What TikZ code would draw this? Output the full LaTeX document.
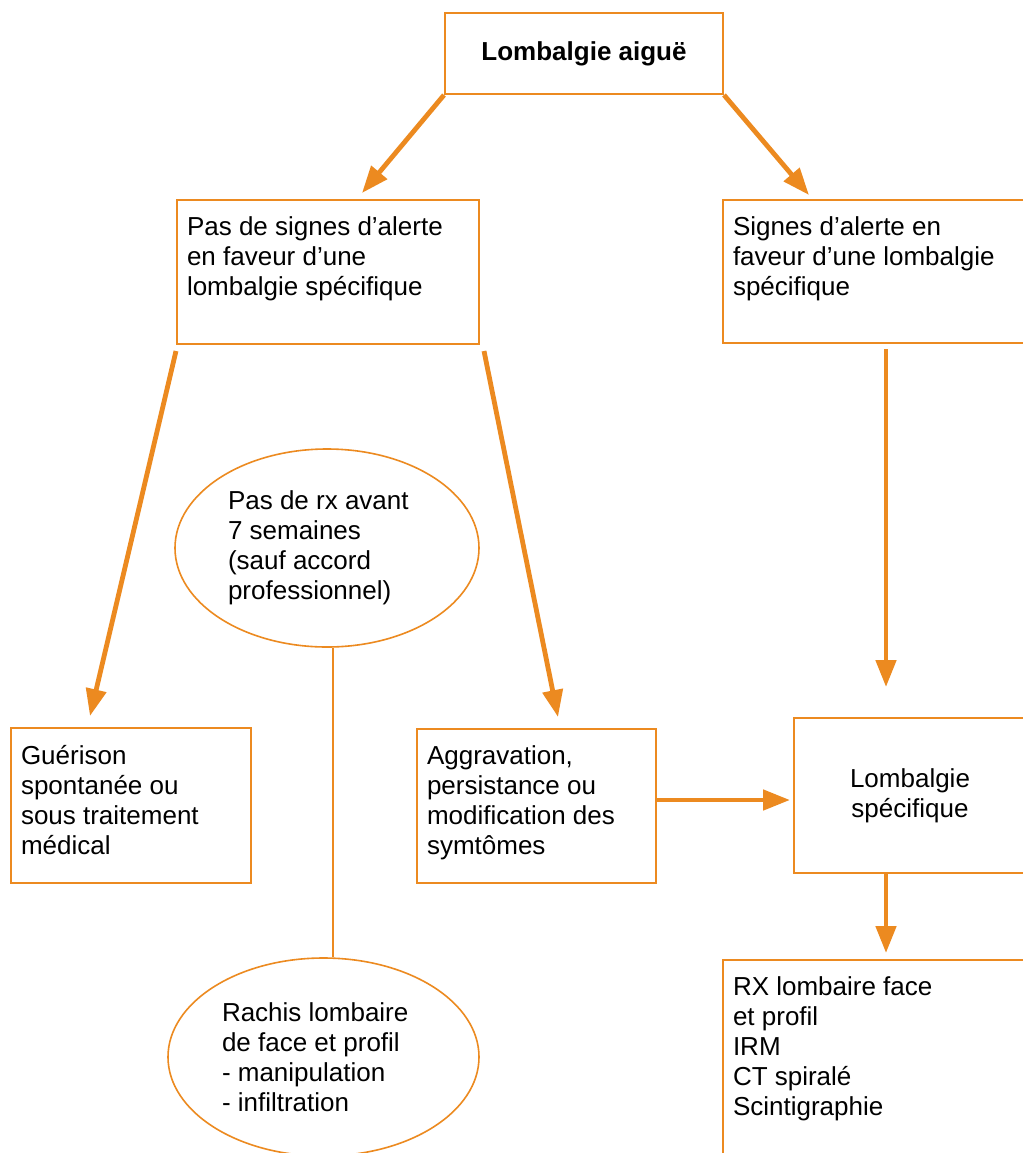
\documentclass[tikz,border=0pt]{standalone}
\usepackage{fontspec}
\setmainfont{Liberation Sans}
\usetikzlibrary{arrows.meta,positioning,calc,shapes.geometric}
\definecolor{amber}{RGB}{236,138,32}
\newcommand{\flowfont}{\fontsize{13}{15}\selectfont}
\newcommand{\stagetext}[3]{\parbox[c][#2][t]{#1}{\raggedright #3}}
\tikzset{
  flow/.style={line width=2.4pt,amber,-{Triangle[length=13.5pt,width=10pt]}},
  link/.style={line width=0.7pt,amber},
  stage/.style={draw=amber,line width=1pt,anchor=north west,inner xsep=5pt,inner ysep=8.5pt,font=\flowfont},
  centerbox/.style={draw=amber,line width=1pt,anchor=north west,inner sep=0pt,align=center,font=\flowfont},
  bubble/.style={ellipse,draw=amber,line width=0.8pt,inner sep=0pt,font=\flowfont}
}
\begin{document}
\begin{tikzpicture}[x=0.5pt,y=-0.5pt]
  \path[use as bounding box,fill=white] (0,0) rectangle (1023,1153);
  \clip (0,0) rectangle (1023,1153);
  % boxes
  \node[centerbox,minimum width=139pt,minimum height=40.5pt,font=\flowfont\bfseries] (title) at (444,12) {Lombalgie aiguë};
  \node[stage] (plain) at (176,199) {\stagetext{141pt}{55pt}{Pas de signes d’alerte\\en faveur d’une\\lombalgie spécifique}};
  \node[stage] (alert) at (722,199) {\stagetext{149pt}{54.5pt}{Signes d’alerte en\\faveur d’une lombalgie\\spécifique}};
  \node[stage] (heal) at (10,727) {\stagetext{110pt}{60.5pt}{Guérison\\spontanée ou\\sous traitement\\médical}};
  \node[stage] (worse) at (416,728) {\stagetext{109.5pt}{60pt}{Aggravation,\\persistance ou\\modification des\\symtômes}};
  \node[centerbox,minimum width=116pt,minimum height=77.5pt] (spec) at (793,717) {Lombalgie\\spécifique};
  \node[stage] (imaging) at (722,959) {\stagetext{149pt}{88.5pt}{RX lombaire face\\et profil\\IRM\\CT spiralé\\Scintigraphie}};
  % ellipses
  \node[bubble,minimum width=152pt,minimum height=99pt] (norx) at (327,548) {\parbox{99pt}{Pas de rx avant\\7 semaines\\(sauf accord\\professionnel)}};
  \node[bubble,minimum width=155.5pt,minimum height=99pt] (manip) at (323.5,1057) {\parbox{101.5pt}{Rachis lombaire\\de face et profil\\- manipulation\\- infiltration}};
  % connectors
  \draw[flow] (title.south west) -- ($(plain.north)+(34,-6)$);
  \draw[flow] (title.south east) -- ($(alert.north west)+(87,-4)$);
  \draw[flow] ($(plain.south west)+(0,6)$) -- ($(heal.north west)+(80,-11)$);
  \draw[flow] ($(plain.south east)+(4,6)$) -- ($(worse.north west)+(142,-11)$);
  \draw[flow] ($(alert.south west)+(164,5)$) -- ($(spec.north west)+(93,-30)$);
  \draw[flow] ($(worse.east)+(0,-6)$) -- ($(spec.west)+(-3,4.5)$);
  \draw[flow] ($(spec.south west)+(93,0)$) -- ($(imaging.north west)+(164,-6)$);
  \coordinate (drop) at ($(norx.south)+(6,0)$);
  \draw[link] (drop) -- (drop |- manip.north);
\end{tikzpicture}
\end{document}
